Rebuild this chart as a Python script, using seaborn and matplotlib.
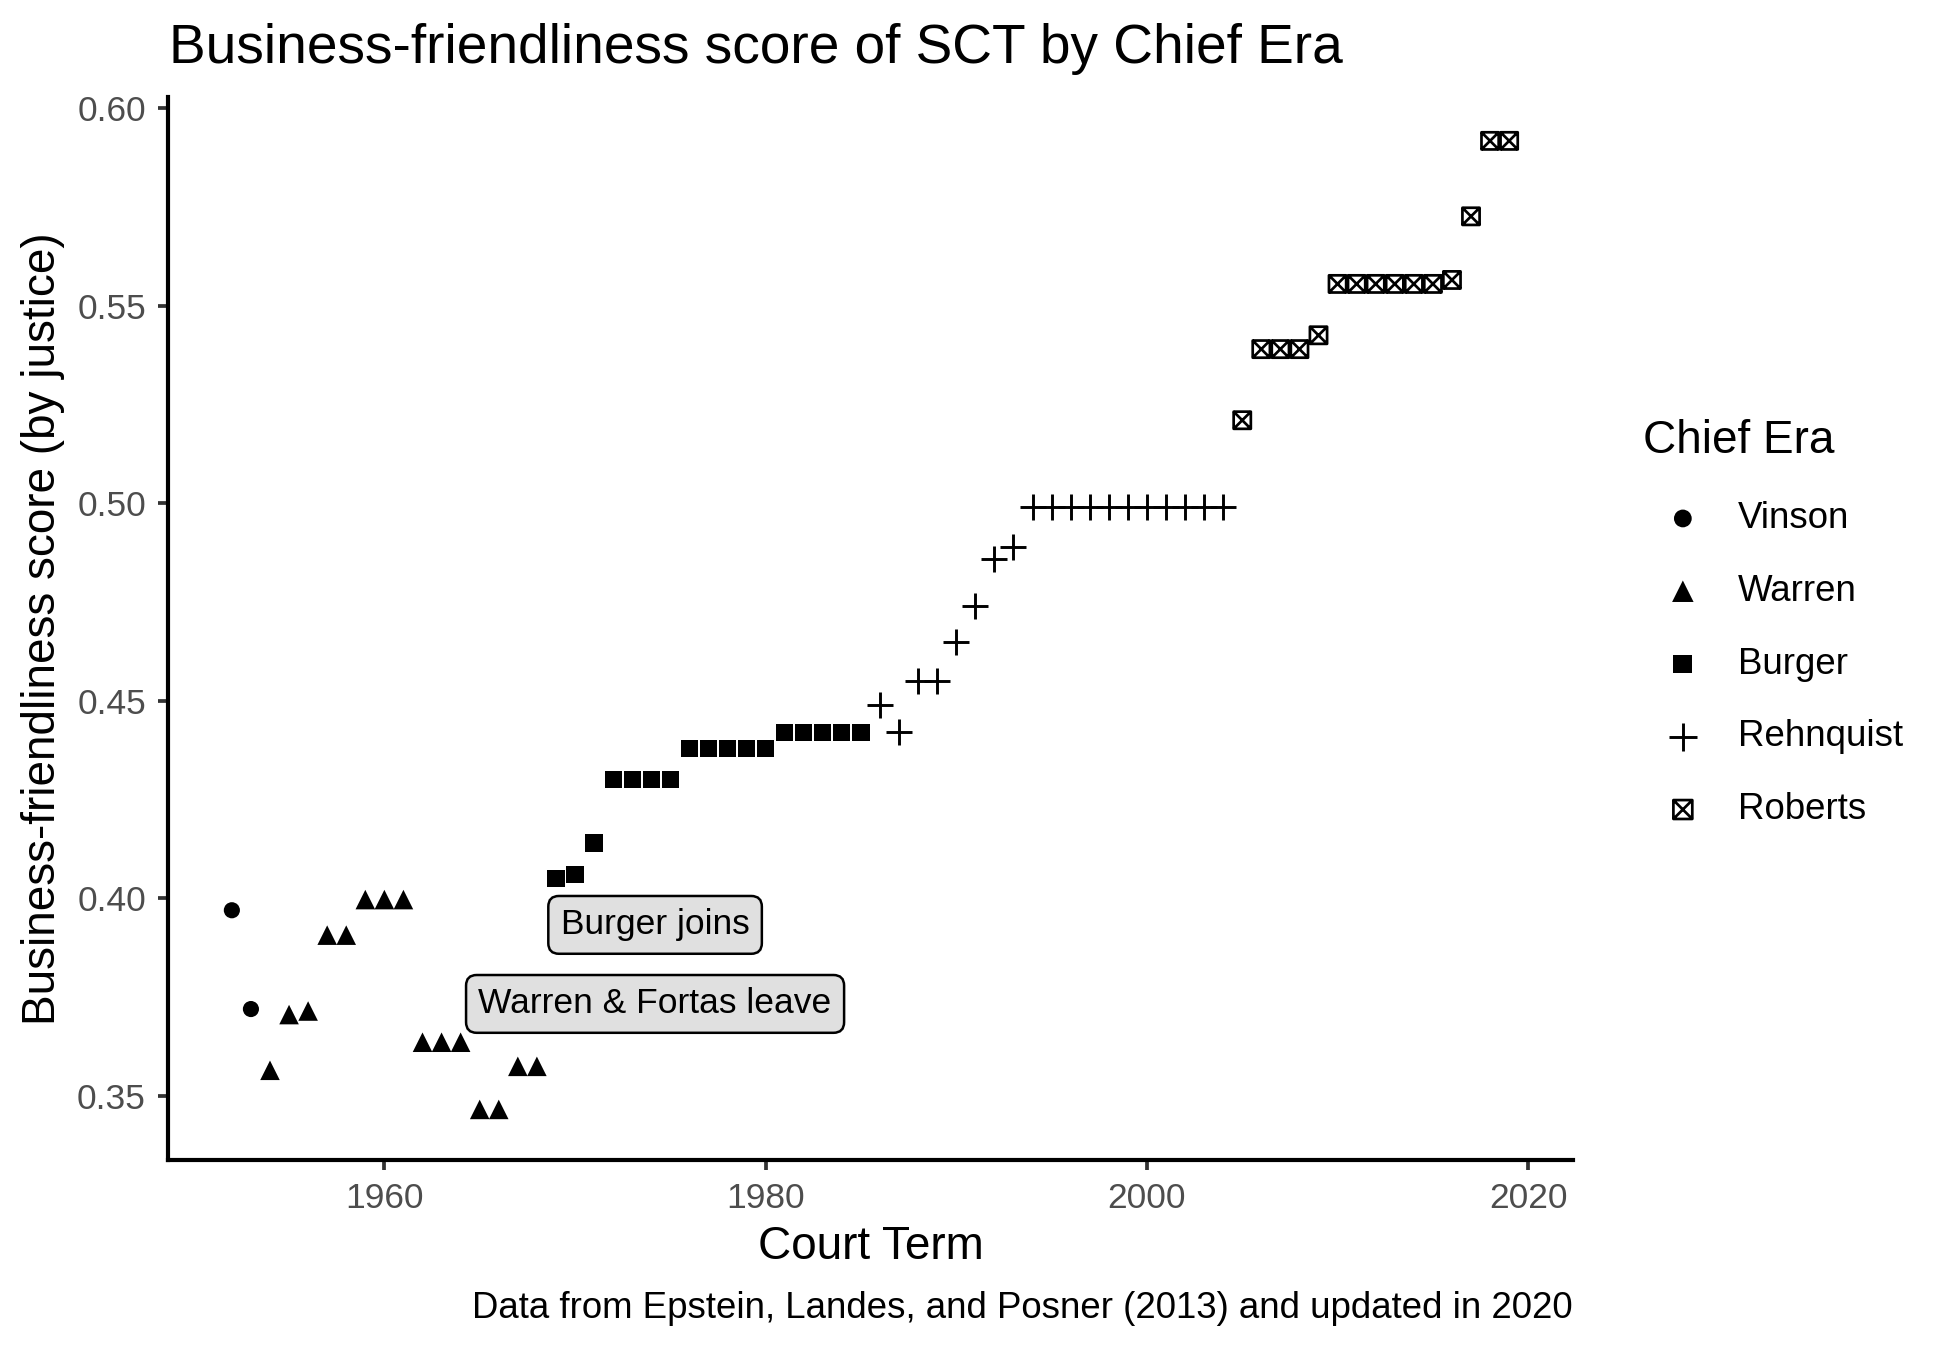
import pandas as pd
import numpy as np
import matplotlib.pyplot as plt
from matplotlib.path import Path
import seaborn as sns

# scores, one value per court term
vinson_terms = [1952, 1953]
vinson_scores = [0.397, 0.372]

warren_terms = [1954, 1955, 1956, 1957, 1958, 1959, 1960, 1961,
                1962, 1963, 1964, 1965, 1966, 1967, 1968]
warren_scores = [0.3565, 0.3706, 0.3715, 0.3907, 0.3907, 0.3997, 0.3997, 0.3997,
                 0.3636, 0.3636, 0.3636, 0.3466, 0.3466, 0.3575, 0.3575]

burger_terms = [1969, 1970, 1971, 1972, 1973, 1974, 1975, 1976, 1977,
                1978, 1979, 1980, 1981, 1982, 1983, 1984, 1985]
burger_scores = [0.405, 0.406, 0.414, 0.430, 0.430, 0.430, 0.430, 0.438, 0.438,
                 0.438, 0.438, 0.438, 0.442, 0.442, 0.442, 0.442, 0.442]

rehnquist_terms = [1986, 1987, 1988, 1989, 1990, 1991, 1992, 1993, 1994, 1995,
                   1996, 1997, 1998, 1999, 2000, 2001, 2002, 2003, 2004]
rehnquist_scores = [0.449, 0.442, 0.455, 0.455, 0.465, 0.474, 0.486, 0.489, 0.499, 0.499,
                    0.499, 0.499, 0.499, 0.499, 0.499, 0.499, 0.499, 0.499, 0.499]

roberts_terms = [2005, 2006, 2007, 2008, 2009, 2010, 2011, 2012,
                 2013, 2014, 2015, 2016, 2017, 2018, 2019]
roberts_scores = [0.521, 0.539, 0.539, 0.539, 0.5425, 0.5555, 0.5555, 0.5555,
                  0.5555, 0.5555, 0.5555, 0.5565, 0.5726, 0.5917, 0.5917]

eras = ["Vinson", "Warren", "Burger", "Rehnquist", "Roberts"]

annot_text = ["Burger joins", "Warren & Fortas leave"]
annot_x = [1974.2, 1974.2]
annot_y = [0.3933, 0.3733]

frames = []
for era, t, s in zip(eras,
                     [vinson_terms, warren_terms, burger_terms, rehnquist_terms, roberts_terms],
                     [vinson_scores, warren_scores, burger_scores, rehnquist_scores, roberts_scores]):
    frames.append(pd.DataFrame({"term": t, "score": s, "era": era}))
df = pd.concat(frames, ignore_index=True)

sns.set_style("ticks")
plt.rcParams['font.family'] = ['Liberation Sans', 'DejaVu Sans']
plt.rcParams['text.color'] = 'black'
plt.rcParams['axes.labelcolor'] = 'black'

# square with an X inside (ggplot shape 7)
box_x = Path([(-1, -1), (1, -1), (1, 1), (-1, 1), (-1, -1),
              (-1, -1), (1, 1), (-1, 1), (1, -1)],
             [Path.MOVETO, Path.LINETO, Path.LINETO, Path.LINETO, Path.CLOSEPOLY,
              Path.MOVETO, Path.LINETO, Path.MOVETO, Path.LINETO])

styles = {
    "Vinson": dict(marker="o", s=15, linewidth=0, edgecolor="none"),
    "Warren": dict(marker="^", s=22, linewidth=0, edgecolor="none"),
    "Burger": dict(marker="s", s=17, linewidth=0, edgecolor="none"),
    "Rehnquist": dict(marker="+", s=38, linewidth=0.7),
    "Roberts": dict(marker=box_x, s=17, linewidth=0.65, facecolor="none", edgecolor="black"),
}

fig = plt.figure(figsize=(6.5, 1349 / 300), dpi=300)
ax = fig.add_axes([168 / 1950, 1 - 1160 / 1349, (1573 - 168) / 1950, (1160 - 97) / 1349])

for era in eras:
    sns.scatterplot(data=df[df["era"] == era], x="term", y="score",
                    color="black", label=era, ax=ax, **styles[era])

for txt, x, y in zip(annot_text, annot_x, annot_y):
    ax.text(x, y, txt, ha="center", va="center", fontsize=8.5, color="black",
            bbox=dict(boxstyle="round,pad=0.35,rounding_size=0.3",
                      facecolor="#E0E0E0", edgecolor="black", linewidth=0.6))

ax.set_xlim(1948.65, 2022.35)
ax.set_ylim(0.3338, 0.6028)
ax.set_xticks([1960, 1980, 2000, 2020])
ax.set_yticks([0.35, 0.40, 0.45, 0.50, 0.55, 0.60])
ax.set_yticklabels(["0.35", "0.40", "0.45", "0.50", "0.55", "0.60"])

sns.despine(ax=ax)
for sp in ["left", "bottom"]:
    ax.spines[sp].set_linewidth(1.0)
    ax.spines[sp].set_color("black")
ax.tick_params(length=2.4, width=0.9, color="#333333", labelcolor="#4D4D4D",
               labelsize=8.5, pad=2.9)

ax.set_xlabel("Court Term", fontsize=11, va="baseline")
ax.xaxis.set_label_coords(0.5, (1160 - 1259) / 1063)
ax.set_ylabel("Business-friendliness score (by justice)", fontsize=11, va="center")
ax.yaxis.set_label_coords((43 - 168) / 1405, 0.5)

fig.text(169 / 1950, 1 - 63 / 1349, "Business-friendliness score of SCT by Chief Era",
         fontsize=13.2, ha="left", va="baseline")
fig.text(1573 / 1950, 1 - 1318 / 1349,
         "Data from Epstein, Landes, and Posner (2013) and updated in 2020",
         fontsize=8.8, ha="right", va="baseline")

handles, labels = ax.get_legend_handles_labels()
ax.legend(handles, labels, title="Chief Era", loc="center left",
          bbox_to_anchor=(1625 / 1950, 0.538), bbox_transform=fig.transFigure,
          frameon=False, fontsize=8.8, title_fontsize=11, alignment="left",
          borderpad=0, handlelength=2.155, handletextpad=0.435, labelspacing=1.03,
          markerscale=1.1)

fig.savefig("out.png", dpi=300)
